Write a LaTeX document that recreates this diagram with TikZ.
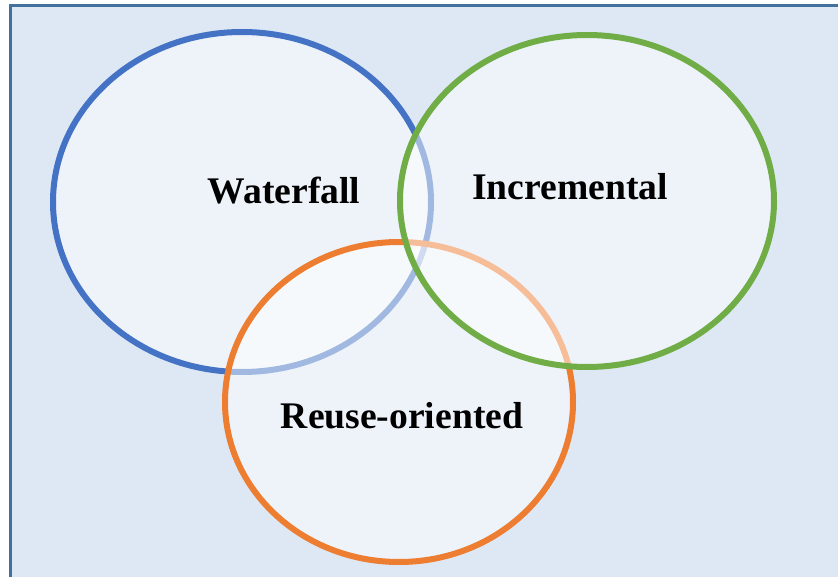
\documentclass[tikz,border=0pt]{standalone}
\usepackage{fontspec}
\setmainfont{Liberation Serif}
\usepackage{tikz}
\usetikzlibrary{shapes}
\definecolor{panelfill}{HTML}{DEE8F5}
\definecolor{panelline}{HTML}{41719C}
\definecolor{wfblue}{HTML}{4472C4}
\definecolor{incgreen}{HTML}{70AD47}
\definecolor{reuseorange}{HTML}{ED7D31}

\begin{document}
\begin{tikzpicture}[x=1pt,y=-1pt]
\tikzstyle{model}=[ellipse, line width=6pt, fill=white, fill opacity=0.5, inner sep=0pt]
\tikzstyle{tag}=[font=\fontsize{37.6}{40}\selectfont\bfseries, inner sep=0pt]
\useasboundingbox (0,0) rectangle (838,577);
\draw[panelline, fill=panelfill, line width=2.5pt] (10.5,5.7) rectangle (845,590);
% models, blue first, green on top
\node[model, draw=wfblue, minimum width=378pt, minimum height=340pt] (WF) at (242,202) {};
\node[model, draw=reuseorange, minimum width=348pt, minimum height=320pt] (RO) at (399,402) {};
\node[model, draw=incgreen, minimum width=374pt, minimum height=332pt] (IN) at (587,201) {};
% labels
\node[tag] (WFt) at (284,191) {Waterfall};
\node[tag] (INt) at (570,187) {Incremental};
\node[tag] (ROt) at (402,416) {Reuse-oriented};
\end{tikzpicture}
\end{document}
